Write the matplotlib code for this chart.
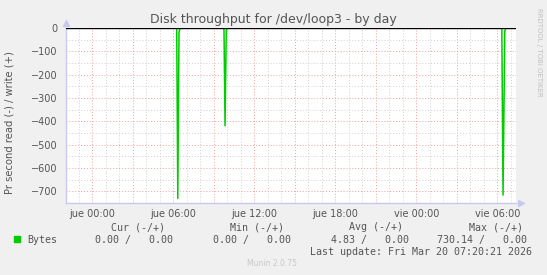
import matplotlib
matplotlib.use("Agg")
import matplotlib.pyplot as plt
from matplotlib.ticker import MultipleLocator, FixedLocator

# hours relative to "jue 00:00"
hours = [-1.95, 6.25, 6.33, 6.42, 6.5, 9.75, 9.83, 9.92, 10.0,
         30.33, 30.42, 30.55, 30.65, 31.38]
read_bytes = [0, 0, -730.14, -18, 0, 0, -419, -10, 0,
              0, -716, -12, 0, 0]

tick_hours = [0, 6, 12, 18, 24, 30]
tick_labels = ["jue 00:00", "jue 06:00", "jue 12:00", "jue 18:00",
               "vie 00:00", "vie 06:00"]

legend_cols = ["Cur (-/+)", "Min (-/+)", "Avg (-/+)", "Max (-/+)"]
legend_vals = ["0.00 /   0.00", "0.00 /   0.00", "4.83 /   0.00", "730.14 /   0.00"]

W, H = 547, 275
fig = plt.figure(figsize=(W / 100, H / 100), dpi=100, facecolor="#F0F0F0")

# plot area in pixels: x 66..516, y 28..203
ax = fig.add_axes([66 / W, (H - 203) / H, 450 / W, 175 / H])
ax.set_facecolor("white")
ax.set_xlim(-1.95, 31.38)
ax.set_ylim(-750, 0)

# grid
for h in range(-1, 32):
    if h % 3 == 0:
        ax.axvline(h, color="#EFA0A0", lw=0.7, ls=(0, (1, 2)), zorder=1)
    else:
        ax.axvline(h, color="#D0D0D0", lw=0.7, ls=(0, (1, 2)), zorder=1)
for v in range(-750, 1, 50):
    if v % 100 == 0:
        ax.axhline(v, color="#EFA0A0", lw=0.7, ls=(0, (1, 2)), zorder=1)
    else:
        ax.axhline(v, color="#D0D0D0", lw=0.7, ls=(0, (1, 2)), zorder=1)

ax.plot(hours, read_bytes, color="#00CC00", lw=1.1, zorder=3)
ax.axhline(0, color="black", lw=1.0, zorder=4)

ax.xaxis.set_major_locator(FixedLocator(tick_hours))
ax.yaxis.set_major_locator(MultipleLocator(100))
ax.set_xticklabels(tick_labels)
ax.tick_params(axis="x", which="both", length=0, pad=4, labelsize=7, labelcolor="#555555")
ax.tick_params(axis="y", which="both", length=0, pad=6, labelsize=7, labelcolor="#555555")

for s in ["top", "right"]:
    ax.spines[s].set_visible(False)
for s in ["left", "bottom"]:
    ax.spines[s].set_color("#C8C8F0")
    ax.spines[s].set_linewidth(1)

# axis arrows
ax.plot([0], [1.03], marker="^", color="#C8C8F0", ms=5, transform=ax.transAxes, clip_on=False)
ax.plot([1.01], [0], marker=">", color="#C8C8F0", ms=5, transform=ax.transAxes, clip_on=False)

fig.text(273 / W, 1 - 19 / H, "Disk throughput for /dev/loop3 - by day",
         ha="center", va="center", fontsize=9, color="#555555")
fig.text(10 / W, 1 - 123 / H, "Pr second read (-) / write (+)",
         ha="center", va="center", rotation=90, fontsize=7.2, color="#555555")
fig.text(539 / W, 1 - 52 / H, "RRDTOOL / TOBI OETIKER", ha="center", va="center",
         rotation=270, fontsize=5, color="#C0C0C0")

mono = "DejaVu Sans Mono"
col_centers = [138, 257, 376, 496]
val_rights = [173, 291, 409, 527]
for c, t in zip(col_centers, legend_cols):
    fig.text(c / W, 1 - 227 / H, t, ha="center", va="center", fontsize=7.2,
             family=mono, color="#555555")
fig.patches.append(plt.Rectangle((14 / W, 1 - 242 / H), 6 / W, 6 / H,
                                 transform=fig.transFigure, color="#00CC00"))
fig.text(27 / W, 1 - 240 / H, "Bytes", ha="left", va="center", fontsize=7.2,
         family=mono, color="#555555")
for r, t in zip(val_rights, legend_vals):
    fig.text(r / W, 1 - 240 / H, t, ha="right", va="center", fontsize=7.2,
             family=mono, color="#555555")
fig.text(532 / W, 1 - 252 / H, "Last update: Fri Mar 20 07:20:21 2026", ha="right",
         va="center", fontsize=7.2, family=mono, color="#555555")
fig.text(272 / W, 1 - 264 / H, "Munin 2.0.75", ha="center", va="center",
         fontsize=5.5, color="#C8C8C8")

fig.savefig("out.png", dpi=100, facecolor=fig.get_facecolor())
